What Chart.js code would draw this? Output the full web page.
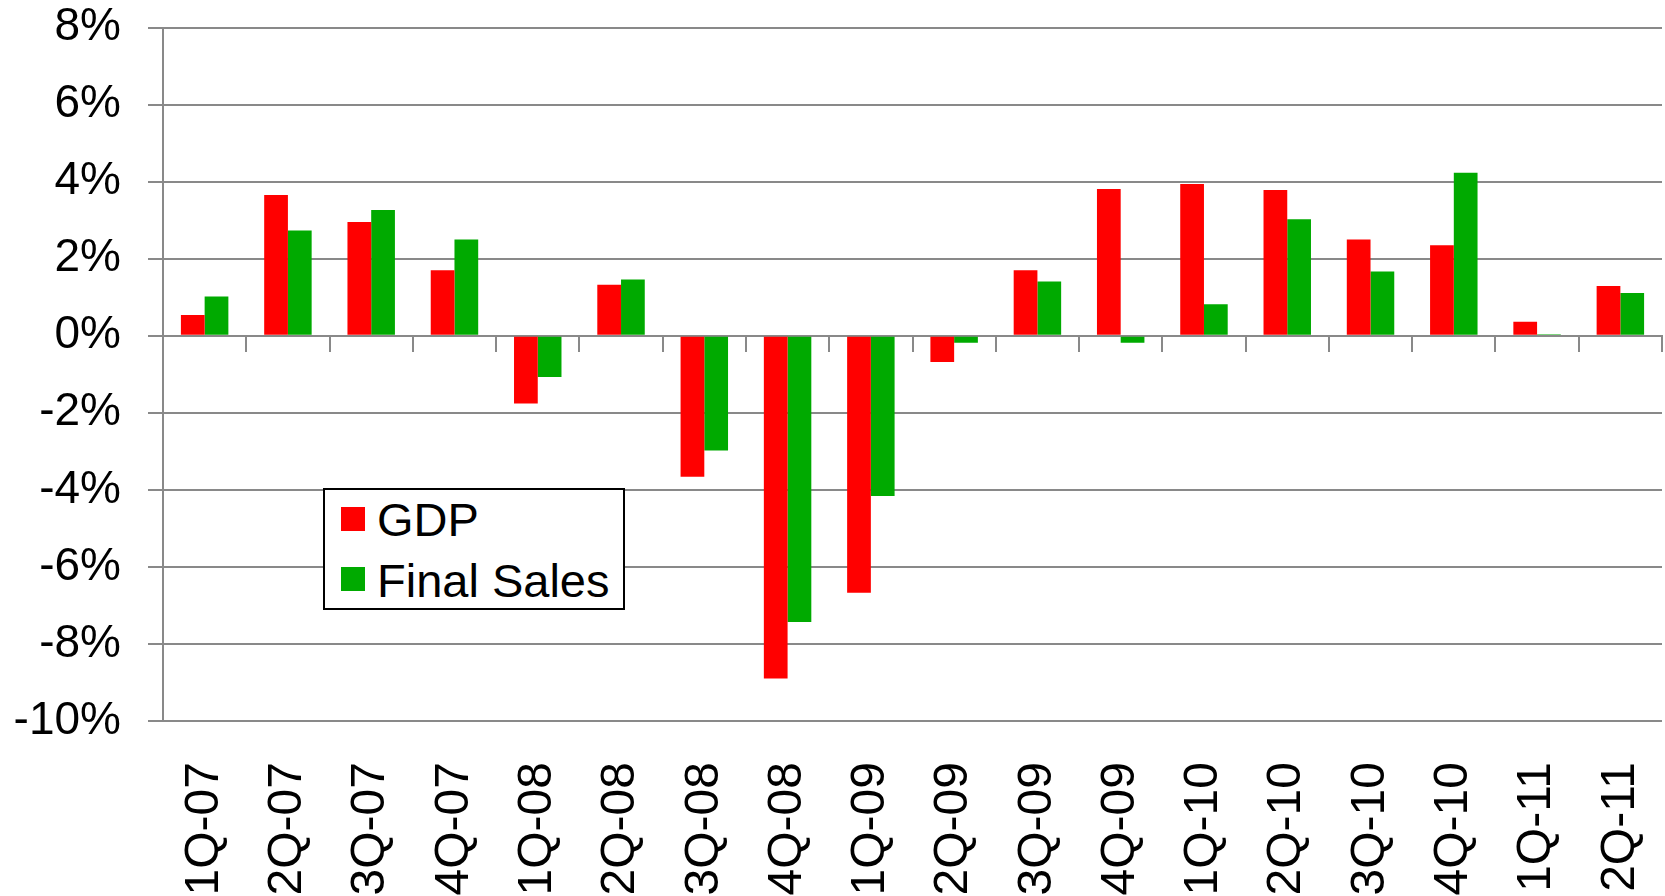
<!DOCTYPE html>
<html>
<head>
<meta charset="utf-8">
<script src="https://cdn.jsdelivr.net/npm/chart.js@4/dist/chart.umd.min.js"></script>
<style>
  body { margin: 0; background: #fff; }
  #wrap { position: relative; width: 1665px; height: 896px; }
  #legend {
    position: absolute; left: 323px; top: 488px; width: 298px; height: 118px;
    border: 2px solid #000; background: #fff;
    font-family: "Liberation Sans", Arial, sans-serif; font-size: 47px; color: #000;
  }
  .item { position: absolute; left: 0; height: 47px; line-height: 47px; white-space: nowrap; }
  .box { position: absolute; left: 16px; width: 24px; height: 24px; }
  .lbl { position: absolute; left: 52px; top: 0; }
</style>
</head>
<body>
<div id="wrap">
  <canvas id="chart" width="1665" height="896"></canvas>
  <div id="legend"></div>
</div>
<script>
// quarters on the x axis
const quarters = ["1Q-07", "2Q-07", "3Q-07", "4Q-07", "1Q-08", "2Q-08", "3Q-08", "4Q-08", "1Q-09",
  "2Q-09", "3Q-09", "4Q-09", "1Q-10", "2Q-10", "3Q-10", "4Q-10", "1Q-11", "2Q-11"];

// growth rates, percent
const gdp = [0.54, 3.65, 2.95, 1.70, -1.76, 1.32, -3.66, -8.90, -6.67,
  -0.68, 1.70, 3.81, 3.94, 3.78, 2.50, 2.35, 0.36, 1.29];
const finalSales = [1.02, 2.73, 3.26, 2.50, -1.07, 1.46, -2.98, -7.43, -4.16,
  -0.18, 1.41, -0.18, 0.82, 3.02, 1.67, 4.23, 0.04, 1.11];

// y axis ticks
const yMin = -10;
const yMax = 8;
const yStep = 2;

const seriesNames = ["GDP", "Final Sales"];
const seriesColors = ["#ff0000", "#00aa00"];

const gridColor = "#898989";
const fontFamily = "'Liberation Sans', Arial, sans-serif";

const chartData = {
  labels: quarters,
  datasets: [
    { label: seriesNames[0], data: gdp, backgroundColor: seriesColors[0], borderWidth: 0 },
    { label: seriesNames[1], data: finalSales, backgroundColor: seriesColors[1], borderWidth: 0 },
  ],
};

const options = {
  responsive: false,
  animation: false,
  layout: { padding: { top: 27.5, right: 3, left: 0, bottom: 0 } },
  datasets: { bar: { categoryPercentage: 0.57, barPercentage: 1.0 } },
  plugins: { legend: { display: false }, tooltip: { enabled: false } },
  scales: {
    x: {
      type: "category",
      offset: true,
      grid: { display: false, drawTicks: false },
      border: { display: false },
      ticks: {
        minRotation: 90, maxRotation: 90, autoSkip: false, padding: 41,
        color: "#000", font: { family: fontFamily, size: 48 },
      },
      // fixed height, no extra side padding from the rotated labels
      afterFit: (scale) => {
        scale.height = 175;
        scale.paddingLeft = 0;
        scale.paddingRight = 0;
      },
    },
    // second x axis sitting on the zero line, only for the tick marks
    x2: {
      type: "category",
      position: { y: 0 },
      offset: true,
      grid: { offset: true, drawOnChartArea: false, color: gridColor, lineWidth: 2, tickLength: 15 },
      border: { color: gridColor, width: 2 },
      ticks: { display: false },
      afterFit: (scale) => {
        scale.paddingLeft = 0;
        scale.paddingRight = 0;
      },
    },
    y: {
      min: yMin,
      max: yMax,
      grid: { color: gridColor, lineWidth: 2, tickLength: 15 },
      border: { color: gridColor, width: 2 },
      ticks: {
        stepSize: yStep, padding: 27, color: "#000",
        font: { family: fontFamily, size: 46 },
        callback: (v) => v + "%",
      },
      afterFit: (scale) => {
        scale.width = 163;
        scale.paddingTop = 0;
        scale.paddingBottom = 0;
      },
    },
  },
};

new Chart(document.getElementById("chart"), { type: "bar", data: chartData, options: options });

// legend box inside the plot
const legend = document.getElementById("legend");
const rowTops = [6, 67];
const boxTops = [17, 77];
chartData.datasets.forEach((ds, i) => {
  const sw = document.createElement("div");
  sw.className = "box";
  sw.style.top = boxTops[i] + "px";
  sw.style.background = ds.backgroundColor;
  legend.appendChild(sw);
  const row = document.createElement("div");
  row.className = "item";
  row.style.top = rowTops[i] + "px";
  row.innerHTML = '<span class="lbl">' + ds.label + "</span>";
  legend.appendChild(row);
});
</script>
</body>
</html>
